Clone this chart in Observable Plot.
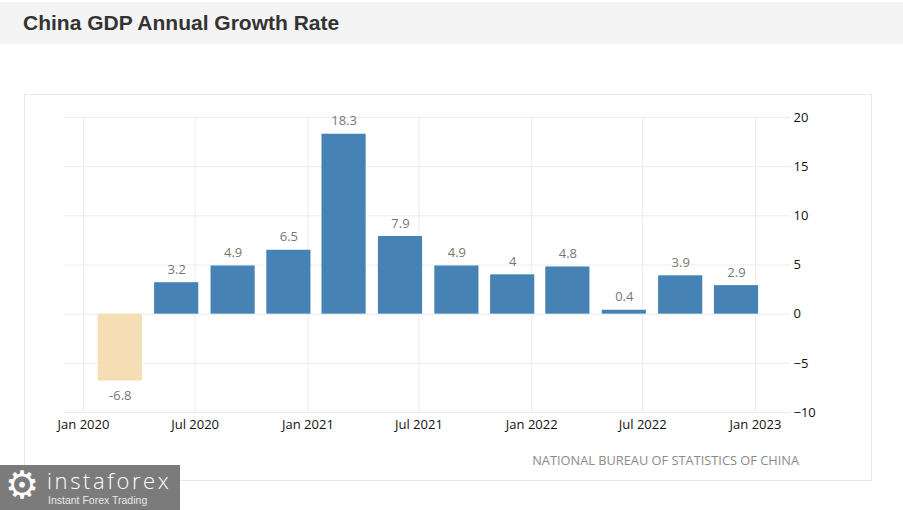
<!DOCTYPE html>
<html>
<head>
<meta charset="utf-8">
<script src="https://cdn.jsdelivr.net/npm/d3@7"></script>
<script src="https://cdn.jsdelivr.net/npm/@observablehq/plot@0.6"></script>
<style>
  html, body { margin: 0; padding: 0; background: #fff; }
  #page { position: relative; width: 903px; height: 510px; overflow: hidden; background: #fff; }
  #titlebar { position: absolute; left: 0; top: 2px; width: 903px; height: 42px; background: #f4f4f4; }
  #title { position: absolute; left: 23px; top: 9px; font: bold 21px "Liberation Sans", Arial, sans-serif; color: #333; white-space: nowrap; }
  #box { position: absolute; left: 24px; top: 94px; width: 846px; height: 385px; border: 1px solid #e8e8e8; }
  #chart { position: absolute; left: 0; top: 94px; }
  #source { position: absolute; right: 104px; top: 451px; font: 12.8px "Open Sans", sans-serif; color: #8a8a8a; white-space: nowrap; }
  #wm { position: absolute; left: 0; top: 465px; width: 180px; height: 45px; background: #7b7b7b; color: #fff; }
  #wm .gear { position: absolute; left: 5px; top: 1px; font: 38px "DejaVu Sans", sans-serif; line-height: 38px; }
  #wm .big { position: absolute; left: 47px; top: 2px; font: 300 22px "Open Sans", sans-serif; line-height: 26px; letter-spacing: 2.6px; white-space: nowrap; }
  #wm .small { position: absolute; left: 48px; top: 29px; font: 10.5px "Liberation Sans", Arial, sans-serif; line-height: 12px; color: #e8e8e8; white-space: nowrap; }
</style>
</head>
<body>
<div id="page">
  <div id="titlebar"><div id="title">China GDP Annual Growth Rate</div></div>
  <div id="box"></div>
  <div id="chart"></div>
  <div id="source">NATIONAL BUREAU OF STATISTICS OF CHINA</div>
  <div id="wm"><span class="gear">⚙</span><span class="big">instaforex</span><span class="small">Instant Forex Trading</span></div>
</div>
<script>
// Data
const quarterDates = ["2020-03-01","2020-06-01","2020-09-01","2020-12-01",
                      "2021-03-01","2021-06-01","2021-09-01","2021-12-01",
                      "2022-03-01","2022-06-01","2022-09-01","2022-12-01"];
const growthValues = [-6.8, 3.2, 4.9, 6.5, 18.3, 7.9, 4.9, 4, 4.8, 0.4, 3.9, 2.9];
const xTickDates = ["2020-01-01","2020-07-01","2021-01-01","2021-07-01","2022-01-01","2022-07-01","2023-01-01"];
const yTickValues = [-10, -5, 0, 5, 10, 15, 20];

const data = quarterDates.map((d, i) => ({date: new Date(d + "T00:00:00Z"), value: growthValues[i]}));
const xTicks = xTickDates.map(d => new Date(d + "T00:00:00Z"));
const halfBar = 36 * 24 * 3600 * 1000;

const fmt = d3.utcFormat("%b %Y");

const chart = Plot.plot({
  width: 903,
  height: 386,
  marginLeft: 83,
  marginRight: 148,
  marginTop: 23,
  marginBottom: 68,
  style: {background: "transparent", fontFamily: "'Open Sans', sans-serif", fontSize: "13px"},
  x: {type: "utc", domain: [xTicks[0], xTicks[xTicks.length - 1]], label: null},
  y: {domain: [-10, 20], label: null},
  marks: [
    Plot.ruleY(yTickValues, {stroke: "#ececec", strokeWidth: 1, insetLeft: -19, insetRight: -35}),
    Plot.ruleX(xTicks, {stroke: "#ececec", strokeWidth: 1}),
    Plot.rectY(data, {
      x1: d => new Date(+d.date - halfBar),
      x2: d => new Date(+d.date + halfBar),
      y1: 0,
      y2: "value",
      fill: d => d.value < 0 ? "#F5DEB3" : "#4682B4"
    }),
    Plot.text(data.filter(d => d.value >= 0), {
      x: "date", y: "value", text: d => String(d.value),
      dy: -13, fill: "#777", fontSize: 13, letterSpacing: "0.6px"
    }),
    Plot.text(data.filter(d => d.value < 0), {
      x: "date", y: "value", text: d => String(d.value),
      dy: 15, fill: "#777", fontSize: 13, letterSpacing: "0.6px"
    }),
    Plot.axisX(xTicks, {tickSize: 0, tickPadding: 7, tickFormat: fmt, fill: "#111", fontSize: 13, label: null}),
    Plot.axisY(yTickValues, {anchor: "right", tickSize: 0, tickPadding: 38, textAnchor: "start", fill: "#111", fontSize: 13, label: null})
  ]
});
document.getElementById("chart").appendChild(chart);
</script>
</body>
</html>
